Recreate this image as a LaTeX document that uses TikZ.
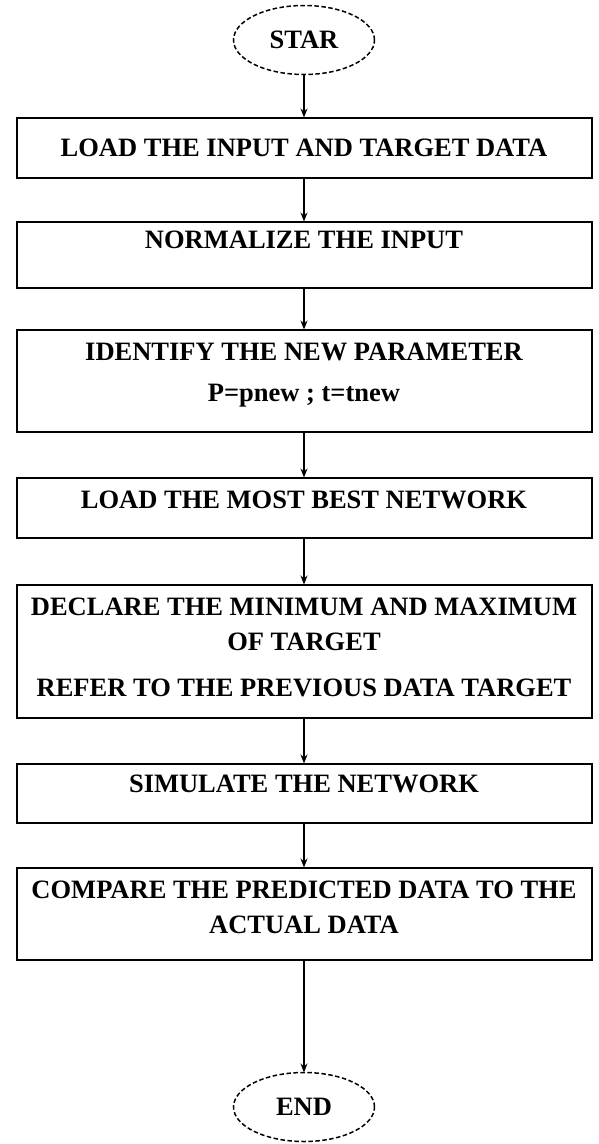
\documentclass[tikz,border=0pt]{standalone}
\usepackage{fontspec}
\setmainfont{Liberation Serif}
\usepackage{tikz}
\usetikzlibrary{shapes.geometric, arrows, arrows.meta, positioning}

\begin{document}
\begin{tikzpicture}[
    x=1pt, y=1pt,
    node distance=44pt,
    box/.style={rectangle, draw, line width=2pt, outer sep=0pt, minimum width=575pt, inner sep=0pt, align=center, font=\fontsize{26.5}{35}\selectfont\bfseries},
    terminal/.style={ellipse, draw, line width=1.5pt, dash pattern=on 4.5pt off 2.5pt, outer sep=0pt, inner sep=0pt, minimum width=141pt, minimum height=69pt, font=\fontsize{26.5}{35}\selectfont\bfseries},
    arrow/.style={->, >={Stealth[length=9pt, width=7pt]}, line width=1.1pt}
]
\useasboundingbox (0,0) rectangle (599,-1144);

% Start and end
\node[terminal] (star) at (304,-40) {STAR};

% Main boxes
\node[box, minimum height=60pt, below=43pt of star] (load) {LOAD THE INPUT AND TARGET DATA};
\node[box, minimum height=66pt, text depth=30pt, below=44pt of load] (normalize) {NORMALIZE THE INPUT};
\node[box, minimum height=102pt, text depth=17pt, below=42pt of normalize] (identify) {IDENTIFY THE NEW PARAMETER\\[6pt]P=pnew ; t=tnew};
\node[box, minimum height=60pt, text depth=16pt, below=46pt of identify] (network) {LOAD THE MOST BEST NETWORK};
\node[box, minimum height=133pt, text depth=8pt, below=47pt of network] (declare) {DECLARE THE MINIMUM AND MAXIMUM\\OF TARGET\\[11pt]REFER TO THE PREVIOUS DATA TARGET};
\node[box, minimum height=59pt, text depth=18pt, below=46pt of declare] (simulate) {SIMULATE THE NETWORK};
\node[box, minimum height=92pt, text depth=13pt, below=45pt of simulate] (compare) {COMPARE THE PREDICTED DATA TO THE\\ACTUAL DATA};

\node[terminal, below=113pt of compare] (end) {END};

% Arrows
\draw[arrow] (star) -- (load);
\draw[arrow] (load) -- (normalize);
\draw[arrow] (normalize) -- (identify);
\draw[arrow] (identify) -- (network);
\draw[arrow] (network) -- (declare);
\draw[arrow] (declare) -- (simulate);
\draw[arrow] (simulate) -- (compare);
\draw[arrow] (compare) -- (end);

\end{tikzpicture}
\end{document}
